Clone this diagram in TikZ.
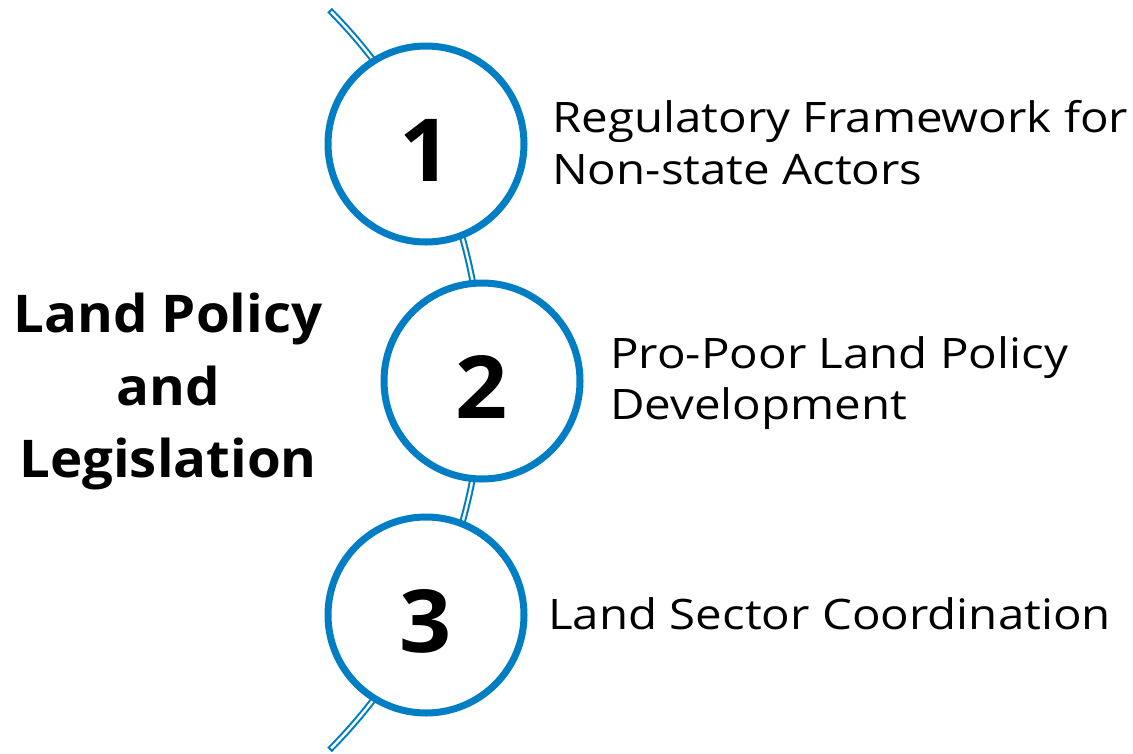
\documentclass[tikz,border=0pt]{standalone}
\usepackage{fontspec}
\setmainfont{Open Sans}
\newfontfamily\labelfont{Open Sans}[FakeStretch=1.13]
\newfontfamily\titlefont{Open Sans}[FakeStretch=1.05]
\definecolor{ringblue}{RGB}{0,126,197}
\tikzset{
  ring/.style={circle, draw=ringblue, line width=7pt, fill=white, minimum size=196pt, inner sep=0pt},
  numtext/.style={anchor=base, inner sep=0pt, font=\titlefont\fontsize{87}{87}\selectfont\bfseries},
  itemtext/.style={anchor=base west, inner sep=0pt, font=\labelfont\fontsize{42}{50}\selectfont},
  titletext/.style={anchor=base, inner sep=0pt, font=\titlefont\fontsize{52}{72}\selectfont\bfseries},
}
\begin{document}
\begin{tikzpicture}[x=1pt,y=-1pt]
\useasboundingbox (0,0) rectangle (1133,753);
% spine arc
\coordinate (arccenter) at (-43,380);
\draw[ringblue, line width=6.5pt] ([shift={(arccenter)}]-44.8:525pt) arc[start angle=-44.8, end angle=44.8, radius=525pt];
\draw[white, line width=2.4pt] ([shift={(arccenter)}]-44.55:525pt) arc[start angle=-44.55, end angle=44.55, radius=525pt];
% rings
\node[ring] (c1) at (426,144) {};
\node[ring] (c2) at (482,381) {};
\node[ring] (c3) at (426,615) {};
\node[numtext] (n1) at (426,181) {1};
\node[numtext] (n2) at (482,418) {2};
\node[numtext] (n3) at (426,652) {3};
% labels
\node[itemtext] (l1a) at (552,132) {Regulatory Framework for};
\node[itemtext] (l1b) at (552,184) {Non-state Actors};
\node[itemtext] (l2a) at (610,368) {Pro-Poor Land Policy};
\node[itemtext] (l2b) at (610,419) {Development};
\node[itemtext] (l3) at (548,629) {Land Sector Coordination};
% title
\node[titletext] (t1) at (168,332) {Land Policy};
\node[titletext] (t2) at (168,405) {and};
\node[titletext] (t3) at (168,477) {Legislation};
\end{tikzpicture}
\end{document}
